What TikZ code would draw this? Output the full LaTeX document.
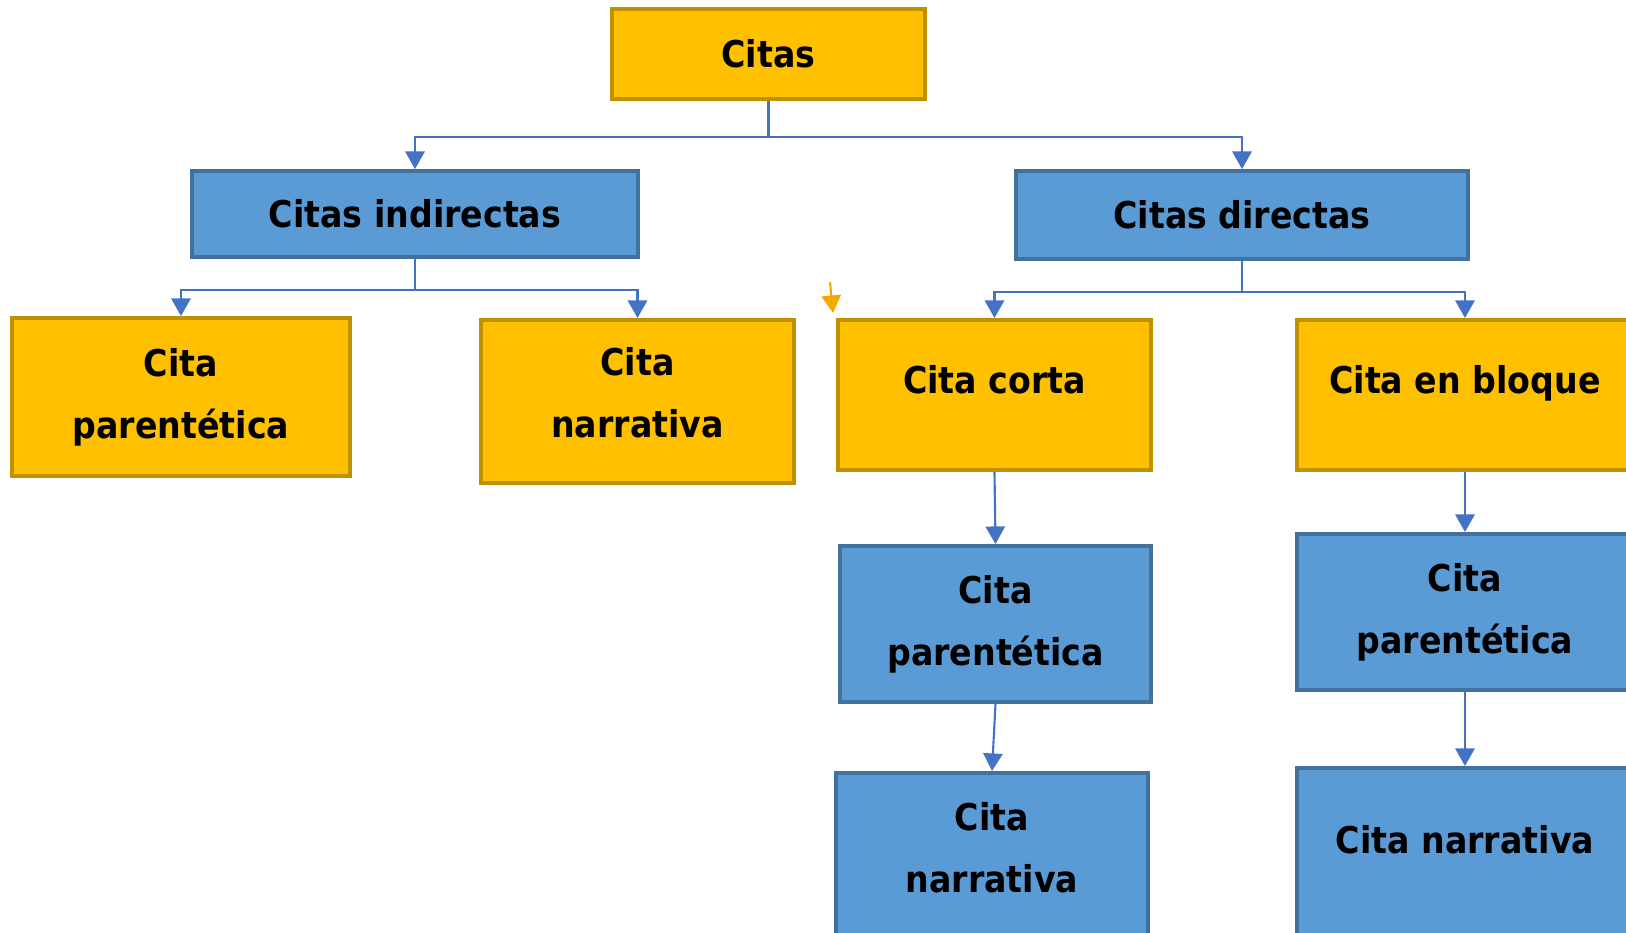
\documentclass[tikz,border=0pt]{standalone}
\usepackage{fontspec}
\setmainfont{DejaVu Sans Condensed}
\usepackage{tikz}
\usetikzlibrary{arrows.meta}
\definecolor{citaorange}{HTML}{FFC000}
\definecolor{citaorangeline}{HTML}{BF9000}
\definecolor{citablue}{HTML}{5B9BD5}
\definecolor{citablueline}{HTML}{41719C}
\definecolor{linkblue}{HTML}{4472C4}
\definecolor{markorange}{HTML}{F5A800}
\newcommand{\liftline}[2]{\raisebox{#1}[\height][\depth]{#2}}
\tikzset{
  box/.style={draw, line width=1.1pt, inner sep=0pt, align=center,
    font=\fontsize{10.5}{17.6}\selectfont\bfseries},
  orangebox/.style={box, fill=citaorange, draw=citaorangeline},
  bluebox/.style={box, fill=citablue, draw=citablueline},
  raised/.style={text height=8pt, text depth=#1},
  link/.style={draw=linkblue, line width=0.6pt, -{Triangle[width=5.5pt,length=5pt]}}
}

\begin{document}
\begin{tikzpicture}[x=0.01cm, y=-0.01cm]
    \useasboundingbox (0,0) rectangle (1626,933);
    \clip (0,0) rectangle (1626,933);

    \node[orangebox, minimum width=3.13cm, minimum height=0.90cm] (citas) at (768.5,54) {Citas};
    \node[bluebox, minimum width=4.46cm, minimum height=0.86cm] (indir) at (415,214) {Citas indirectas};
    \node[bluebox, minimum width=4.52cm, minimum height=0.88cm] (dir) at (1242,215) {Citas directas};

    \node[orangebox, minimum width=3.38cm, minimum height=1.58cm] (lpar) at (181,397) {Cita\\parentética};
    \node[orangebox, minimum width=3.13cm, minimum height=1.63cm] (lnar) at (637.5,401.5) {\liftline{2.4pt}{Cita}\\\liftline{2.4pt}{narrativa}};
    \node[orangebox, raised=8.6pt, minimum width=3.13cm, minimum height=1.50cm] (corta) at (994.5,395) {Cita corta};
    \node[orangebox, raised=8.6pt, minimum width=3.36cm, minimum height=1.50cm] (bloque) at (1465,395) {Cita en bloque};

    \node[bluebox, minimum width=3.11cm, minimum height=1.56cm] (cpar) at (995.5,624) {Cita\\parentética};
    \node[bluebox, minimum width=3.12cm, minimum height=1.62cm] (cnar) at (992,854) {\liftline{1.8pt}{Cita}\\\liftline{1.8pt}{narrativa}};
    \node[bluebox, minimum width=3.36cm, minimum height=1.56cm] (rpar) at (1465,612) {Cita\\parentética};
    \node[bluebox, raised=6.6pt, minimum width=3.36cm, minimum height=1.67cm] (rnar) at (1465,851.5) {Cita narrativa};

    \draw[link] (citas.south) -- ++(0,36) -| (indir.north);
    \draw[link] (citas.south) -- ++(0,36) -| (dir.north);
    \draw[link] (indir.south) -- ++(0,31) -| (lpar.north);
    \draw[link] (indir.south) -- ++(0,31) -| (lnar.north);
    \draw[link] (dir.south) -- ++(0,31) -| (corta.north);
    \draw[link] (dir.south) -- ++(0,31) -| (bloque.north);
    \draw[link] (corta.south) -- (cpar.north);
    \draw[link] (cpar.south) -- (cnar.north);
    \draw[link] (bloque.south) -- (rpar.north);
    \draw[link] (rpar.south) -- (rnar.north);

    \coordinate (markA) at (830,282);
    \coordinate (markB) at (833,313);
    \draw[draw=markorange, line width=0.6pt, -{Triangle[width=5.5pt,length=5pt]}] (markA) -- (markB);
\end{tikzpicture}
\end{document}
